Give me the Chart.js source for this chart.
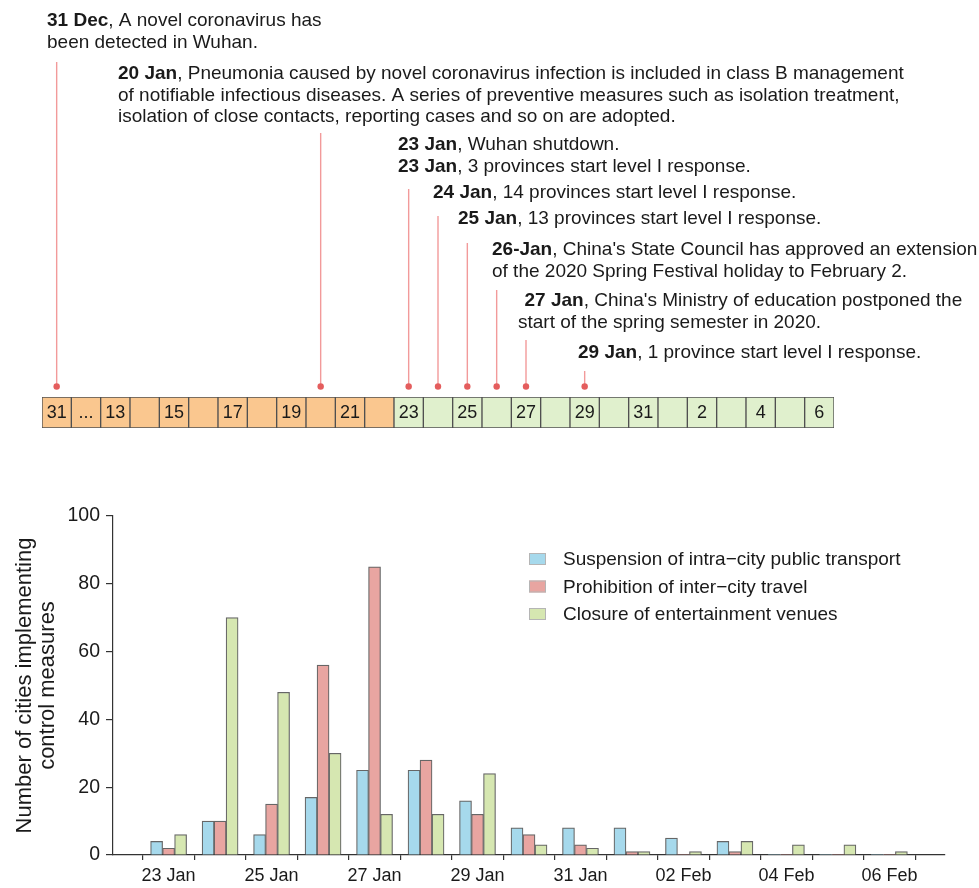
<!DOCTYPE html>
<html>
<head>
<meta charset="utf-8">
<script src="https://cdn.jsdelivr.net/npm/chart.js@4.4.1/dist/chart.umd.min.js"></script>
<style>
  html, body { margin: 0; background: #fff; }
  #wrap { position: relative; width: 979px; height: 888px; }
  #timeline-box { position: absolute; left: 0; top: 0; width: 979px; height: 450px; }
  #bars-box { position: absolute; left: 0; top: 450px; width: 979px; height: 438px; }
</style>
</head>
<body>
<div id="wrap">
  <div id="timeline-box"><canvas id="timeline"></canvas></div>
  <div id="bars-box"><canvas id="bars"></canvas></div>
</div>
<script>
// --- DATA ---
// timeline cells, 31 Dec then 13 Jan .. 6 Feb
const cellLabels = ['31', '...', '13', '', '15', '', '17', '', '19', '', '21', '', '23', '', '25', '', '27', '', '29', '', '31', '', '2', '', '4', '', '6'];
const shutdownCell = 12; // 23 Jan, green from here on
const markerCells = [0, 9, 12, 13, 14, 15, 16, 18];

const noteDates = ['31 Dec', '20 Jan', '23 Jan', '23 Jan', '24 Jan', '25 Jan', '26-Jan', '27 Jan', '29 Jan'];
const noteLines = [
    [', A novel coronavirus has', 'been detected in Wuhan.'],
    [', Pneumonia caused by novel coronavirus infection is included in class B management',
     'of notifiable infectious diseases. A series of preventive measures such as isolation treatment,',
     'isolation of close contacts, reporting cases and so on are adopted.'],
    [', Wuhan shutdown.'],
    [', 3 provinces start level I response.'],
    [', 14 provinces start level I response.'],
    [', 13 provinces start level I response.'],
    [', China\'s State Council has approved an extension', 'of the 2020 Spring Festival holiday to February 2.'],
    [', China\'s Ministry of education postponed the', 'start of the spring semester in 2020.'],
    [', 1 province start level I response.']
];

// bar chart
const days = ['23 Jan', '24 Jan', '25 Jan', '26 Jan', '27 Jan', '28 Jan', '29 Jan', '30 Jan', '31 Jan',
              '01 Feb', '02 Feb', '03 Feb', '04 Feb', '05 Feb', '06 Feb'];
const transport = [4, 10, 6, 17, 25, 25, 16, 8, 8, 8, 5, 4, 0, 0, 0];
const travel    = [2, 10, 15, 56, 85, 28, 12, 6, 3, 1, 0, 1, 0, 0, 0];
const venues    = [6, 70, 48, 30, 12, 12, 24, 3, 2, 1, 1, 4, 3, 3, 1];
const seriesNames = ['Suspension of intra\u2212city public transport', 'Prohibition of inter\u2212city travel', 'Closure of entertainment venues'];
const yTicks = [0, 20, 40, 60, 80, 100];

// --- LAYOUT / STYLE ---
const FONT = "'Liberation Sans', Arial, sans-serif";
const INK = '#1a1a1a';
const ORANGE = '#fac78f', GREEN = '#e0f0cd';
const COLORS = ['#a6d9ec', '#e8a5a1', '#d6e7b1'];
// where each note sits: x, first baseline, line step, first-line indent
const notePos = [
    { x: 47, y: 26, step: 22 },
    { x: 118, y: 79, step: 21.7 },
    { x: 398, y: 150 },
    { x: 398, y: 172 },
    { x: 433, y: 198 },
    { x: 458, y: 224 },
    { x: 492, y: 254.5, step: 22 },
    { x: 518, y: 306, step: 22, indent: 6.5 },
    { x: 578, y: 358 }
];
const markerTop = [62, 133, 189, 216, 243, 290, 340, 371];

Chart.defaults.font.family = FONT;
Chart.defaults.color = INK;

// --- TIMELINE ---
const timelinePlugin = {
    id: 'timelineNotes',
    afterDraw(chart) {
        const ctx = chart.ctx, x = chart.scales.x, area = chart.chartArea;
        ctx.save();
        // day numbers inside cells
        ctx.font = '18px ' + FONT; ctx.fillStyle = INK;
        ctx.textAlign = 'center'; ctx.textBaseline = 'middle';
        chart.getDatasetMeta(0).data.forEach((bar, i) => {
            ctx.fillText(cellLabels[i], bar.x, (bar.y + bar.base) / 2 + 1);
        });
        // red markers
        const dotY = area.top - 10.5;
        markerCells.forEach((c, i) => {
            const px = x.getPixelForValue(c);
            ctx.strokeStyle = '#f29a9a'; ctx.lineWidth = 1.4;
            ctx.beginPath(); ctx.moveTo(px, markerTop[i]); ctx.lineTo(px, dotY); ctx.stroke();
            ctx.fillStyle = '#e45d5d';
            ctx.beginPath(); ctx.arc(px, dotY, 3.2, 0, Math.PI * 2); ctx.fill();
        });
        // notes
        ctx.textAlign = 'left'; ctx.textBaseline = 'alphabetic'; ctx.fillStyle = INK;
        noteDates.forEach((d, i) => {
            const p = notePos[i];
            const x0 = p.x + (p.indent || 0);
            ctx.font = 'bold 19px ' + FONT;
            ctx.fillText(d, x0, p.y);
            const w = ctx.measureText(d).width;
            ctx.font = '19px ' + FONT;
            noteLines[i].forEach((line, j) => {
                if (j === 0) ctx.fillText(line, x0 + w, p.y);
                else ctx.fillText(line, p.x, p.y + j * p.step);
            });
        });
        ctx.restore();
    }
};

new Chart(document.getElementById('timeline'), {
    type: 'bar',
    data: {
        labels: cellLabels,
        datasets: [{
            data: cellLabels.map(() => 1),
            backgroundColor: cellLabels.map((_, i) => i < shutdownCell ? ORANGE : GREEN),
            borderColor: '#505050', borderWidth: 1, borderSkipped: false,
            barPercentage: 1, categoryPercentage: 1
        }]
    },
    options: {
        responsive: true, maintainAspectRatio: false, animation: false,
        layout: { padding: { left: 42, right: 145, top: 397, bottom: 22 } },
        plugins: { legend: { display: false }, tooltip: { enabled: false } },
        scales: { x: { display: false }, y: { display: false, min: 0, max: 1 } }
    },
    plugins: [timelinePlugin]
});

// --- BAR CHART ---
const EDGE = 0.58; // gap between axis and first/last day, in days

const legendPlugin = {
    id: 'insideLegend',
    afterDraw(chart) {
        const ctx = chart.ctx;
        ctx.save();
        ctx.font = '19px ' + FONT; ctx.textBaseline = 'middle'; ctx.textAlign = 'left';
        chart.data.datasets.forEach((ds, i) => {
            const cy = 109 + i * 27.5;
            ctx.fillStyle = ds.backgroundColor;
            ctx.fillRect(529, cy - 6, 17, 12);
            ctx.strokeStyle = '#b5b5b5'; ctx.lineWidth = 1;
            ctx.strokeRect(529.5, cy - 5.5, 16, 11);
            ctx.fillStyle = INK;
            ctx.fillText(ds.label, 563, cy + 1);
        });
        ctx.restore();
    }
};

const series = [transport, travel, venues].map((vals, k) => ({
    label: seriesNames[k],
    data: vals.map((v, i) => ({ x: i, y: v })),
    backgroundColor: COLORS[k],
    borderColor: '#666',
    borderWidth: c => (c.raw && c.raw.y ? 1.2 : 0),
    barThickness: 12
}));

new Chart(document.getElementById('bars'), {
    type: 'bar',
    data: { datasets: series },
    options: {
        responsive: true, maintainAspectRatio: false, animation: false,
        layout: { padding: { left: 0, right: 34, top: 66, bottom: 0 } },
        plugins: { legend: { display: false }, tooltip: { enabled: false } },
        scales: {
            x: {
                type: 'linear', offset: false,
                min: -0.5 - EDGE, max: days.length - 0.5 + EDGE,
                afterBuildTicks: s => {
                    const t = [];
                    for (let i = 0; i <= days.length; i++) t.push({ value: i - 0.5 });
                    days.forEach((d, i) => { if (i % 2 === 0) t.push({ value: i }); });
                    s.ticks = t.sort((a, b) => a.value - b.value);
                },
                afterFit: s => { s.height = 33; },
                grid: {
                    offset: false, drawOnChartArea: false, tickLength: 5, lineWidth: 1.2,
                    color: c => (c.tick && Number.isInteger(c.tick.value) ? 'rgba(0,0,0,0)' : '#333')
                },
                border: { color: '#333', width: 1.2 },
                ticks: {
                    autoSkip: false, maxRotation: 0, padding: 5,
                    font: { size: 18 },
                    callback: v => (Number.isInteger(v) && v % 2 === 0 ? days[v] : '')
                }
            },
            y: {
                min: 0, max: 100,
                afterBuildTicks: s => { s.ticks = yTicks.map(v => ({ value: v })); },
                afterFit: s => { s.width = 113; },
                grid: { offset: false, drawOnChartArea: false, tickLength: 7, lineWidth: 1.2, color: '#333' },
                border: { color: '#333', width: 1.2 },
                ticks: { padding: 6, font: { size: 19.5 } },
                title: {
                    display: true,
                    text: ['Number of cities implementing', 'control measures'],
                    font: { size: 22, lineHeight: 1.05 },
                    padding: { top: 13.5 }
                }
            }
        }
    },
    plugins: [legendPlugin]
});
</script>
</body>
</html>
